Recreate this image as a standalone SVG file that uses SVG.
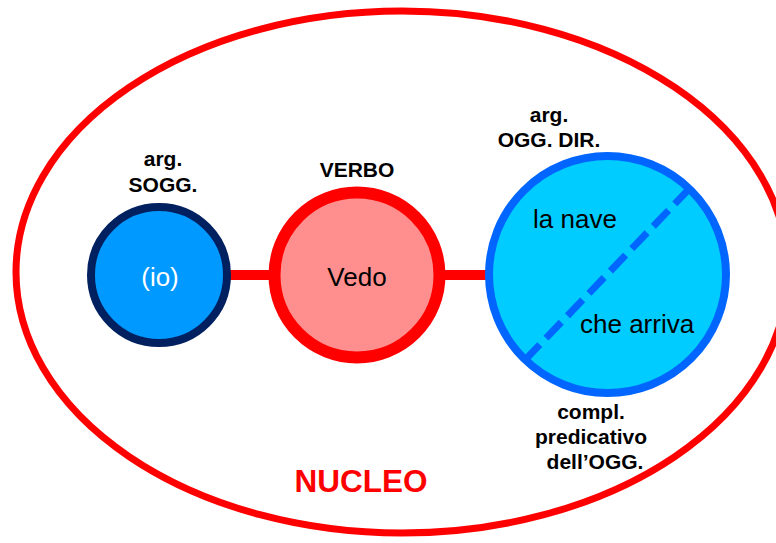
<svg xmlns="http://www.w3.org/2000/svg" width="776" height="543" viewBox="0 0 776 543">
<style>
  .lbl { font-family: "Liberation Sans", Arial, sans-serif; font-weight: bold; font-size: 21px; fill: #000; text-anchor: middle; }
  .txt { font-family: "Liberation Sans", Arial, sans-serif; font-size: 26px; fill: #000; }
  .conn { stroke: #FF0000; stroke-width: 10; fill: none; }
</style>
<rect width="776" height="543" fill="#FFFFFF"/>
<g id="nucleo">
  <ellipse cx="402" cy="272" rx="386" ry="261" fill="none" stroke="#FF0000" stroke-width="7"/>
  <text x="361" y="492" font-family="Liberation Sans, Arial, sans-serif" font-weight="bold" font-size="31.5" fill="#FF0000" text-anchor="middle">NUCLEO</text>
</g>
<g id="connectors">
  <line class="conn" x1="228" y1="275" x2="272" y2="275"/>
  <line class="conn" x1="440" y1="275" x2="490" y2="275"/>
</g>
<g id="soggetto">
  <circle cx="159" cy="275" r="68" fill="#0099FF" stroke="#002060" stroke-width="8"/>
  <text class="txt" x="160" y="286" text-anchor="middle" style="fill:#FFFFFF">(io)</text>
  <text class="lbl" x="163" y="166">arg.</text>
  <text class="lbl" x="163" y="192">SOGG.</text>
</g>
<g id="verbo">
  <circle cx="357" cy="275" r="82.5" fill="#FF8F8F" stroke="#FF0000" stroke-width="12"/>
  <text class="txt" x="357" y="286" text-anchor="middle">Vedo</text>
  <text class="lbl" x="357" y="177">VERBO</text>
</g>
<g id="oggetto">
  <circle cx="607.5" cy="274.5" r="118.5" fill="#00CCFF" stroke="#0066FF" stroke-width="8"/>
  <line x1="690" y1="188" x2="525" y2="360" stroke="#0066FF" stroke-width="7" stroke-dasharray="22 9"/>
  <text class="txt" x="533" y="228">la nave</text>
  <text class="txt" x="580" y="333">che arriva</text>
  <text class="lbl" x="549" y="122">arg.</text>
  <text class="lbl" x="549" y="147">OGG. DIR.</text>
  <text class="lbl" x="591" y="419">compl.</text>
  <text class="lbl" x="591" y="444">predicativo</text>
  <text class="lbl" x="595" y="469">dell’OGG.</text>
</g>
</svg>
